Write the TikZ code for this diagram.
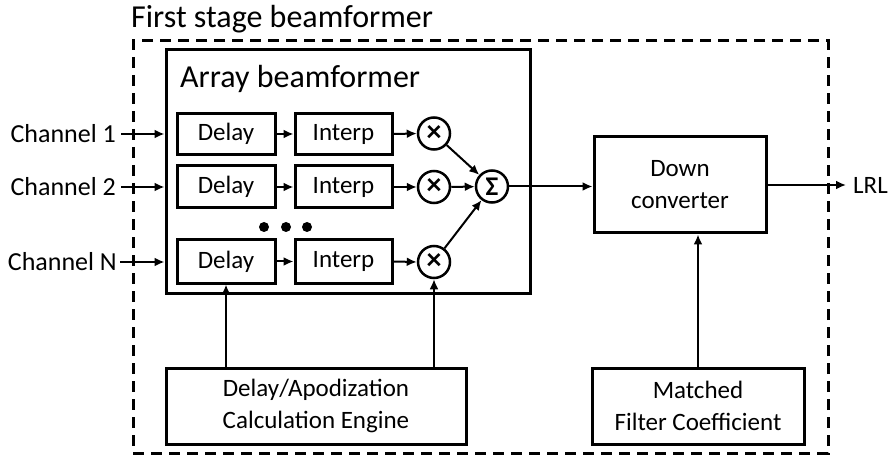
\documentclass[tikz,border=0pt]{standalone}
\usepackage{fontspec}
\setmainfont{Carlito}
\usetikzlibrary{arrows.meta}
\begin{document}
\begin{tikzpicture}[x=1pt,y=-1pt,
  box/.style={draw,line width=3pt,inner sep=0pt,font=\fontsize{25}{32}\selectfont,align=center},
  opcirc/.style={draw,circle,line width=2.5pt,minimum size=32pt,inner sep=0pt,font=\fontsize{30}{30}\selectfont\bfseries},
  sigcirc/.style={opcirc,font=\fontsize{27}{27}\selectfont\bfseries},
  arr/.style={line width=2pt,-{Latex[length=10pt,width=9pt]}},
  lbl/.style={inner sep=0pt,font=\fontsize{26}{30}\selectfont},
  dotn/.style={circle,fill,minimum size=10pt,inner sep=0pt}]
\useasboundingbox (0,0) rectangle (889,457);
% outer dashed frame
\node[draw,line width=3pt,dash pattern=on 11pt off 7pt,minimum width=695pt,minimum height=412pt,inner sep=0pt] (frame) at (480.5,247) {};
\node[inner sep=0pt,anchor=base west,font=\fontsize{32}{36}\selectfont] (title) at (131,28) {First stage beamformer};
% array beamformer box
\node[draw,line width=3pt,minimum width=364pt,minimum height=243pt,inner sep=0pt] (ab) at (348,171.5) {};
\node[inner sep=0pt,anchor=base west,font=\fontsize{32}{36}\selectfont] (abt) at (180,88) {Array beamformer};
% rows
\node[box,minimum width=98pt,minimum height=41pt] (d1) at (226,134) {Delay};
\node[box,minimum width=98pt,minimum height=42pt] (d2) at (226,187) {Delay};
\node[box,minimum width=98pt,minimum height=43pt] (d3) at (226,261.5) {Delay};
\node[box,minimum width=97pt,minimum height=41pt] (i1) at (343.5,134) {Interp};
\node[box,minimum width=97pt,minimum height=42pt] (i2) at (343.5,187) {Interp};
\node[box,minimum width=97pt,minimum height=43pt] (i3) at (343.5,261.5) {Interp};
\node[opcirc] (m1) at (434,133.5) {×};
\node[opcirc] (m2) at (434,187) {×};
\node[opcirc] (m3) at (434,262) {×};
\node[sigcirc] (s) at (492,186.5) {Σ};
\node[dotn] (dt1) at (264,227) {};
\node[dotn] (dt2) at (286,227) {};
\node[dotn] (dt3) at (307,227) {};
% channel labels
\node[lbl,anchor=east] (c1) at (116,134) {Channel 1};
\node[lbl,anchor=east] (c2) at (116,187) {Channel 2};
\node[lbl,anchor=east] (c3) at (117,262) {Channel N};
\draw[arr] ([xshift=5pt]c1.east) -- (c1.east -| ab.west);
\draw[arr] ([xshift=5pt]c2.east) -- (c2.east -| ab.west);
\draw[arr] ([xshift=3pt]c3.east) -- (c3.east -| ab.west);
% row connectors
\foreach \k in {1,2,3}{
  \draw[arr] (d\k.east) -- (i\k.west);
  \draw[arr] (i\k.east) -- (m\k.west);
}
\draw[arr] (m1) -- (s);
\draw[arr] (m2) -- (s);
\draw[arr] (m3) -- (s);
% down converter
\node[box,minimum width=172pt,minimum height=96pt] (dc) at (680,185) {Down\\converter};
\draw[arr] (s.east) -- (s.east -| dc.west);
\node[lbl,anchor=west,font=\fontsize{25}{30}\selectfont] (lrl) at (853,185) {LRL};
\draw[arr] (dc.east) -- ([xshift=-7pt]lrl.west);
% bottom boxes
\node[box,minimum width=300pt,minimum height=76pt] (eng) at (316,406) {Delay/Apodization\\Calculation Engine};
\node[box,minimum width=212pt,minimum height=76pt] (mf) at (698,406) {Matched\\Filter Coefficient};
\draw[arr] (eng.north -| d3) -- (d3.south);
\draw[arr] (eng.north -| m3) -- (m3.south);
\draw[arr] (mf.north) -- (mf.north |- dc.south);
\end{tikzpicture}
\end{document}
